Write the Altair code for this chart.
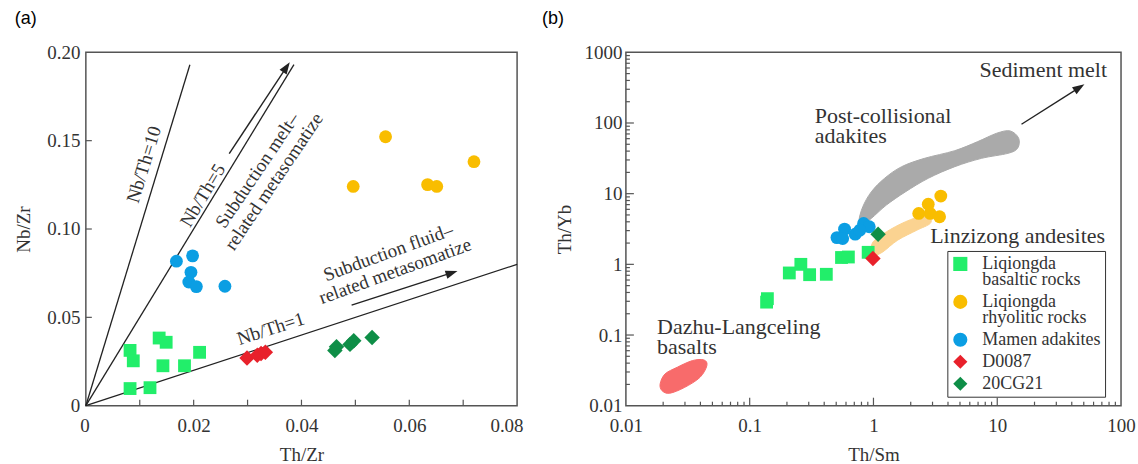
import math
import altair as alt
import pandas as pd

FONT = "Liberation Serif"
TXT = "#333333"
W_A, W_B, H = 432, 496, 354

# ---------------- shared series ----------------
series_names = ["Liqiongda basaltic rocks", "Liqiongda rhyolitic rocks",
                "Mamen adakites", "D0087", "20CG21"]
series_colors = ["#22EE6A", "#F9BD00", "#0B9EE3", "#E8212B", "#0E8E47"]
series_shapes = ["square", "circle", "circle", "diamond", "diamond"]

# ---------------- panel (a): Th/Zr vs Nb/Zr ----------------
a_basalt_x = [0.0082, 0.0088, 0.0082, 0.0119, 0.0136, 0.0149, 0.0143, 0.0183, 0.0211]
a_basalt_y = [0.0313, 0.0254, 0.0097, 0.0102, 0.0383, 0.0359, 0.0226, 0.0226, 0.0302]
a_rhyo_x = [0.0496, 0.0556, 0.0634, 0.0651, 0.0720]
a_rhyo_y = [0.1241, 0.1522, 0.1251, 0.1241, 0.1381]
a_mamen_x = [0.0168, 0.0198, 0.0195, 0.0191, 0.0205, 0.0258]
a_mamen_y = [0.0818, 0.0848, 0.0755, 0.0700, 0.0674, 0.0676]
a_d0087_x = [0.0299, 0.0318, 0.0325, 0.0333]
a_d0087_y = [0.0270, 0.0285, 0.0295, 0.0302]
a_cg_x = [0.0462, 0.0465, 0.0490, 0.0497, 0.0531]
a_cg_y = [0.0312, 0.0334, 0.0347, 0.0367, 0.0386]

a_x_ticklabels = [0, 0.02, 0.04, 0.06, 0.08]
a_y_ticklabels = [0, 0.05, 0.10, 0.15, 0.20]
a_x_ticks = [0.01, 0.02, 0.03, 0.04, 0.05, 0.06, 0.07]
a_y_ticks = [0.05, 0.10, 0.15]

ratio_values = [10, 5, 1]            # Nb/Th
ratio_x_end = [0.0193, 0.0386, 0.08]

a_arrow_x0 = [0.0266, 0.0493]
a_arrow_y0 = [0.1427, 0.0569]
a_arrow_x1 = [0.0371, 0.0677]
a_arrow_y1 = [0.1911, 0.0750]

# anchor = centre of the first text line
a_labels = ["Nb/Th=10", "Nb/Th=5", "Subduction melt–\nrelated metasomatize",
            "Nb/Th=1", "Subduction fluid–\nrelated metasomatize"]
a_label_x = [0.0108, 0.0217, 0.0318, 0.0343, 0.0561]
a_label_y = [0.1365, 0.1190, 0.1332, 0.0435, 0.0867]
a_label_angle = [287, 301, 304, 342, 340]

# ---------------- panel (b): Th/Sm vs Th/Yb ----------------
b_basalt_x = [0.137, 0.139, 0.209, 0.259, 0.305, 0.416, 0.552, 0.627, 0.906]
b_basalt_y = [0.292, 0.327, 0.755, 1.00, 0.714, 0.723, 1.25, 1.27, 1.48]
b_rhyo_x = [2.32, 2.77, 2.87, 3.42, 3.50]
b_rhyo_y = [5.25, 7.10, 5.25, 4.71, 9.25]
b_mamen_x = [0.507, 0.584, 0.564, 0.712, 0.832, 0.925, 0.775]
b_mamen_y = [2.39, 3.15, 2.32, 2.67, 3.78, 3.40, 3.04]
b_d0087_x = [0.99]
b_d0087_y = [1.21]
b_cg_x = [1.09]
b_cg_y = [2.67]

gray_x = [0.764, 0.82, 0.96, 1.23, 1.69, 2.58, 4.54, 6.95, 9.89, 12.7,
          14.9, 14.6, 12.2, 7.46, 4.54, 2.77, 1.81, 1.27, 0.96, 0.82]
gray_y = [4.13, 6.53, 10.6, 16.5, 24.1, 31.6, 40.6, 54.5, 71.6, 77.3,
          60.8, 43.9, 37.2, 31.6, 24.1, 16.5, 10.6, 6.89, 4.46, 3.71]
orange_x = [0.96, 0.993, 1.27, 1.81, 2.58, 2.87, 2.87, 2.24, 1.57, 1.19, 1.03]
orange_y = [1.50, 2.08, 2.88, 4.00, 4.97, 4.71, 3.78, 3.04, 2.20, 1.50, 1.35]
red_x = [0.0189, 0.0207, 0.026, 0.0345, 0.0427, 0.0451, 0.0397, 0.0299, 0.0226, 0.0196]
red_y = [0.0203, 0.0281, 0.035, 0.0435, 0.0444, 0.037, 0.0252, 0.0182, 0.015, 0.0163]

b_arrow_x0 = [15.7]
b_arrow_y0 = [96]
b_arrow_x1 = [45.3]
b_arrow_y1 = [312]

b_labels = ["Sediment melt", "Post-collisional\nadakites", "Linzizong andesites",
            "Dazhu-Langceling\nbasalts"]
b_label_x = [7.2, 0.336, 2.87, 0.01786]
b_label_y = [556, 124, 2.53, 0.129]

b_x_ticklabels = [0.01, 0.1, 1, 10, 100]
b_y_ticklabels = [0.01, 0.1, 1, 10, 100, 1000]
b_x_major = [0.1, 1, 10]
b_y_major = [0.1, 1, 10, 100]
b_x_minor = [m * d for d in [0.01, 0.1, 1, 10] for m in range(2, 10)]
b_y_minor = [m * d for d in [0.01, 0.1, 1, 10, 100] for m in range(2, 10)]

A_X, A_Y = [0, 0.08], [0, 0.2]
B_X, B_Y = [0.01, 100], [0.01, 1000]

ARROW_PATH = "M0,-1L0.6,0.7L-0.6,0.7Z"

AXIS_STYLE = dict(labelFont=FONT, labelFontSize=19, labelColor=TXT, titleFont=FONT,
                  titleFontSize=19, titleFontWeight="normal", titleColor=TXT,
                  grid=False, domain=False, ticks=False, tickSize=0)

# ---------------- encodings ----------------
xa = alt.X("x:Q", scale=alt.Scale(domain=A_X, nice=False, zero=False),
           axis=alt.Axis(values=a_x_ticklabels,
                         labelExpr="datum.value == 0 ? '0' : format(datum.value, '.2f')",
                         labelPadding=11, titlePadding=10, labelFlush=True, labelFlushOffset=6,
                         **AXIS_STYLE),
           title="Th/Zr")
ya = alt.Y("y:Q", scale=alt.Scale(domain=A_Y, nice=False, zero=False),
           axis=alt.Axis(values=a_y_ticklabels,
                         labelExpr="datum.value == 0 ? '0' : format(datum.value, '.2f')",
                         labelPadding=6, titlePadding=13, **AXIS_STYLE),
           title="Nb/Zr")
xb = alt.X("x:Q", scale=alt.Scale(type="log", domain=B_X, nice=False),
           axis=alt.Axis(values=b_x_ticklabels, format="~g", labelPadding=11,
                         titlePadding=10, labelFlush=False, **AXIS_STYLE),
           title="Th/Sm")
yb = alt.Y("y:Q", scale=alt.Scale(type="log", domain=B_Y, nice=False),
           axis=alt.Axis(values=b_y_ticklabels, format="~g", labelPadding=4, titlePadding=9,
                         **AXIS_STYLE),
           title="Th/Yb")

color_scale = alt.Scale(domain=series_names, range=series_colors)
shape_scale = alt.Scale(domain=series_names, range=series_shapes)

legend_b = alt.Legend(
    title=None, orient="none", legendX=322, legendY=199, padding=4,
    strokeColor="#333333", fillColor="white", labelFont=FONT, labelFontSize=18,
    labelColor=TXT, labelLimit=400, symbolSize=200, symbolStrokeWidth=0,
    rowPadding=4, labelOffset=13,
    labelExpr="indexof(datum.label, 'Liqiongda ') == 0 ? ['Liqiongda', substring(datum.label, 10)] : datum.label",
)


def points_df(groups):
    frames = []
    for name, xs, ys in groups:
        frames.append(pd.DataFrame({"x": xs, "y": ys, "series": name}))
    return pd.concat(frames, ignore_index=True)


def point_layers(groups_main, groups_dia, xenc, yenc, legend):
    c = alt.Color("series:N", scale=color_scale, legend=legend)
    s = alt.Shape("series:N", scale=shape_scale, legend=legend)
    main = alt.Chart(points_df(groups_main)).mark_point(
        filled=True, opacity=1, size=165, strokeWidth=0).encode(x=xenc, y=yenc, color=c, shape=s)
    dia = alt.Chart(points_df(groups_dia)).mark_point(
        filled=True, opacity=1, size=240, strokeWidth=0).encode(x=xenc, y=yenc, color=c, shape=s)
    return [main, dia]


def tick_layer(df, xenc, yenc, orient, length):
    if orient == "vertical":
        mk = alt.Chart(df).mark_tick(orient="vertical", size=length, thickness=1.2,
                                     yOffset=-length / 2, color="#555555", opacity=1)
    else:
        mk = alt.Chart(df).mark_tick(orient="horizontal", size=length, thickness=1.2,
                                     xOffset=length / 2, color="#555555", opacity=1)
    return mk.encode(x=xenc, y=yenc)


def arrow_layers(x0, y0, x1, y1, xenc, yenc, to_px):
    shaft = pd.DataFrame({
        "x": x0 + x1, "y": y0 + y1,
        "k": list(range(len(x0))) * 2,
        "o": [0] * len(x0) + [1] * len(x0),
    })
    angs = []
    for a, b, c, d in zip(x0, y0, x1, y1):
        dxp, dyp = to_px(a, b, c, d)
        angs.append(math.degrees(math.atan2(dxp, dyp)) % 360)
    heads = pd.DataFrame({"x": x1, "y": y1, "ang": angs})
    l1 = alt.Chart(shaft).mark_line(color="#222222", strokeWidth=1.4).encode(
        x=xenc, y=yenc, detail="k:N", order="o:Q")
    l2 = alt.Chart(heads).mark_point(shape=ARROW_PATH, filled=True, size=200, color="#222222",
                                     opacity=1, strokeWidth=0).encode(
        x=xenc, y=yenc, angle=alt.Angle("ang:Q", scale=None))
    return [l1, l2]


def px_a(a, b, c, d):
    return (c - a) * W_A / (A_X[1] - A_X[0]), (d - b) * H / (A_Y[1] - A_Y[0])


def px_b(a, b, c, d):
    return math.log10(c / a) * W_B / 4, math.log10(d / b) * H / 5


# ---------------- panel (a) ----------------
ratio_rows = []
for k, xe in zip(ratio_values, ratio_x_end):
    ratio_rows.append({"x": 0.0, "y": 0.0, "line": f"Nb/Th={k}", "o": 0})
    ratio_rows.append({"x": xe, "y": k * xe, "line": f"Nb/Th={k}", "o": 1})
ratio_df = pd.DataFrame(ratio_rows)

a_lines = alt.Chart(ratio_df).mark_line(color="#222222", strokeWidth=1.3).encode(
    x=xa, y=ya, detail="line:N", order="o:Q")

a_ticks_x = tick_layer(pd.DataFrame({"x": a_x_ticks, "y": [A_Y[0]] * len(a_x_ticks)}),
                       xa, ya, "vertical", 6)
a_ticks_y = tick_layer(pd.DataFrame({"x": [A_X[0]] * len(a_y_ticks), "y": a_y_ticks}),
                       xa, ya, "horizontal", 6)

a_text_layers = []
for t, x, y, ang in zip(a_labels, a_label_x, a_label_y, a_label_angle):
    a_text_layers.append(
        alt.Chart(pd.DataFrame({"x": [x], "y": [y], "t": [t]})).mark_text(
            font=FONT, fontSize=19, color=TXT, angle=ang, align="center",
            baseline="middle", lineBreak="\n", lineHeight=20).encode(x=xa, y=ya, text="t:N"))

a_points = point_layers(
    [(series_names[0], a_basalt_x, a_basalt_y),
     (series_names[1], a_rhyo_x, a_rhyo_y),
     (series_names[2], a_mamen_x, a_mamen_y)],
    [(series_names[3], a_d0087_x, a_d0087_y),
     (series_names[4], a_cg_x, a_cg_y)],
    xa, ya, None)

panel_a = alt.layer(
    a_lines, a_ticks_x, a_ticks_y,
    *arrow_layers(a_arrow_x0, a_arrow_y0, a_arrow_x1, a_arrow_y1, xa, ya, px_a),
    *a_points, *a_text_layers,
).properties(width=W_A, height=H,
             title=alt.TitleParams("(a)", anchor="start", frame="bounds", offset=15))

# ---------------- panel (b) ----------------
def poly(xs, ys, color):
    df = pd.DataFrame({"x": xs, "y": ys, "i": list(range(len(xs)))})
    return alt.Chart(df).mark_line(interpolate="cardinal-closed", fill=color, stroke=color,
                                   strokeWidth=1, opacity=1).encode(x=xb, y=yb, order="i:Q")


b_ticks = [
    tick_layer(pd.DataFrame({"x": b_x_major, "y": [B_Y[0]] * len(b_x_major)}), xb, yb, "vertical", 8),
    tick_layer(pd.DataFrame({"x": b_x_minor, "y": [B_Y[0]] * len(b_x_minor)}), xb, yb, "vertical", 4),
    tick_layer(pd.DataFrame({"x": [B_X[0]] * len(b_y_major), "y": b_y_major}), xb, yb, "horizontal", 8),
    tick_layer(pd.DataFrame({"x": [B_X[0]] * len(b_y_minor), "y": b_y_minor}), xb, yb, "horizontal", 4),
]

b_text = alt.Chart(pd.DataFrame({"x": b_label_x, "y": b_label_y, "t": b_labels})).mark_text(
    font=FONT, fontSize=22, color=TXT, align="left", baseline="middle",
    lineBreak="\n", lineHeight=20).encode(x=xb, y=yb, text="t:N")

b_points = point_layers(
    [(series_names[0], b_basalt_x, b_basalt_y),
     (series_names[1], b_rhyo_x, b_rhyo_y),
     (series_names[2], b_mamen_x, b_mamen_y)],
    [(series_names[3], b_d0087_x, b_d0087_y),
     (series_names[4], b_cg_x, b_cg_y)],
    xb, yb, legend_b)

panel_b = alt.layer(
    poly(gray_x, gray_y, "#AAAAAA"),
    poly(orange_x, orange_y, "#FBD391"),
    poly(red_x, red_y, "#F86B6B"),
    *b_ticks,
    *arrow_layers(b_arrow_x0, b_arrow_y0, b_arrow_x1, b_arrow_y1, xb, yb, px_b),
    *b_points, b_text,
).properties(width=W_B, height=H,
             title=alt.TitleParams("(b)", anchor="start", frame="bounds", offset=15, dx=-14))

chart = alt.hconcat(panel_a, panel_b, spacing=17).resolve_scale(
    color="independent", shape="independent"
).properties(padding={"left": 14, "top": 9, "right": 2, "bottom": 0})

chart = chart.configure(style={"guide-label": {"lineHeight": 16}}).configure_view(
    stroke="#555555", strokeWidth=1.5
).configure_title(font="Liberation Sans", fontSize=18, fontWeight="normal", color="black")

chart.save("out.html", embed_options={"renderer": "svg", "actions": False})
